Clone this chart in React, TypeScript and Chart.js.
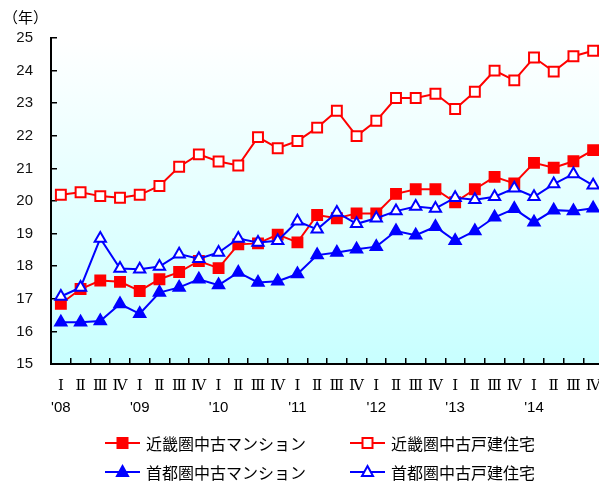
import React, { useEffect, useRef } from 'react';
import { Chart, registerables } from 'chart.js';

Chart.register(...registerables);

const quarters = [
  'Ⅰ', 'Ⅱ', 'Ⅲ', 'Ⅳ', 'Ⅰ', 'Ⅱ', 'Ⅲ', 'Ⅳ', 'Ⅰ', 'Ⅱ', 'Ⅲ', 'Ⅳ', 'Ⅰ', 'Ⅱ',
  'Ⅲ', 'Ⅳ', 'Ⅰ', 'Ⅱ', 'Ⅲ', 'Ⅳ', 'Ⅰ', 'Ⅱ', 'Ⅲ', 'Ⅳ', 'Ⅰ', 'Ⅱ', 'Ⅲ', 'Ⅳ',
];
const years = [
  "'08", '', '', '', "'09", '', '', '', "'10", '', '', '', "'11", '',
  '', '', "'12", '', '', '', "'13", '', '', '', "'14", '', '', '',
];

const kinkiMansion = [
  16.85, 17.3, 17.56, 17.52, 17.24, 17.6, 17.82, 18.16, 17.94, 18.67, 18.7, 18.97, 18.73, 19.57,
  19.47, 19.62, 19.62, 20.22, 20.36, 20.36, 19.96, 20.36, 20.74, 20.54, 21.17, 21.02, 21.22, 21.56,
];
const kinkiHouse = [
  20.19, 20.27, 20.15, 20.1, 20.19, 20.46, 21.05, 21.43, 21.21, 21.09, 21.96, 21.62, 21.84, 22.25,
  22.77, 21.99, 22.46, 23.16, 23.16, 23.29, 22.82, 23.35, 24.0, 23.7, 24.4, 23.97, 24.44, 24.61,
];
const shutoMansion = [
  16.28, 16.28, 16.32, 16.84, 16.54, 17.19, 17.35, 17.6, 17.42, 17.81, 17.5, 17.54, 17.76, 18.34,
  18.42, 18.52, 18.6, 19.08, 18.95, 19.21, 18.78, 19.08, 19.5, 19.76, 19.35, 19.72, 19.69, 19.78,
];
const shutoHouse = [
  17.07, 17.35, 18.85, 17.93, 17.91, 17.99, 18.37, 18.23, 18.42, 18.85, 18.73, 18.78, 19.38, 19.13,
  19.65, 19.3, 19.47, 19.69, 19.83, 19.77, 20.1, 20.04, 20.13, 20.39, 20.13, 20.52, 20.83, 20.48,
];

const seriesNames = ['近畿圏中古マンション', '近畿圏中古戸建住宅', '首都圏中古マンション', '首都圏中古戸建住宅'];
const unitLabel = '（年）';

const RED = '#ff0000';
const BLUE = '#0000ff';
const CJK = "'Noto Sans CJK JP', sans-serif";

const bgPlugin = {
  id: 'bgGradient',
  beforeDraw(chart: any) {
    const { ctx, chartArea } = chart;
    if (!chartArea) return;
    const g = ctx.createLinearGradient(0, chartArea.top, 0, chartArea.bottom);
    g.addColorStop(0, '#ffffff');
    g.addColorStop(1, '#c8ffff');
    ctx.save();
    ctx.fillStyle = g;
    ctx.fillRect(chartArea.left, chartArea.top, chartArea.right - chartArea.left, chartArea.bottom - chartArea.top);
    ctx.restore();
  },
};

function drawMarker(ctx: CanvasRenderingContext2D, style: string, x: number, y: number, fill: string, stroke: string) {
  ctx.save();
  ctx.lineWidth = 2;
  ctx.fillStyle = fill;
  ctx.strokeStyle = stroke;
  ctx.beginPath();
  if (style === 'rect') {
    ctx.rect(x - 5, y - 5, 10, 10);
  } else {
    ctx.moveTo(x, y - 6);
    ctx.lineTo(x + 5.5, y + 4);
    ctx.lineTo(x - 5.5, y + 4);
    ctx.closePath();
  }
  ctx.fill();
  ctx.stroke();
  ctx.restore();
}

const legendPlugin = {
  id: 'customLegend',
  afterDraw(chart: any) {
    const { ctx } = chart;
    const cols = [105, 350];
    const rows = [443, 472];
    ctx.save();
    chart.data.datasets.forEach((ds: any, i: number) => {
      const x0 = cols[i % 2];
      const y = rows[Math.floor(i / 2)];
      ctx.strokeStyle = ds.borderColor;
      ctx.lineWidth = 2;
      ctx.beginPath();
      ctx.moveTo(x0, y);
      ctx.lineTo(x0 + 35, y);
      ctx.stroke();
      drawMarker(ctx, ds.pointStyle, x0 + 17.5, y, ds.pointBackgroundColor, ds.pointBorderColor);
      ctx.fillStyle = '#000';
      ctx.font = `16px ${CJK}`;
      ctx.textAlign = 'left';
      ctx.textBaseline = 'middle';
      ctx.fillText(ds.label, x0 + 41, y + 1);
    });
    ctx.font = `15px ${CJK}`;
    ctx.fillStyle = '#000';
    ctx.textAlign = 'left';
    ctx.textBaseline = 'middle';
    ctx.fillText(unitLabel, 3, 17);
    ctx.restore();
  },
};

const zeroPad = (scale: any) => {
  scale.paddingLeft = 0;
  scale.paddingRight = 0;
};

export default function App() {
  const ref = useRef<HTMLCanvasElement | null>(null);

  useEffect(() => {
    document.body.style.margin = '0';
    const canvas = ref.current;
    if (!canvas) return;
    const mk = (label: string, data: number[], color: string, style: string, filled: boolean, order: number) => ({
      label,
      data,
      borderColor: color,
      backgroundColor: color,
      borderWidth: 2,
      pointStyle: style,
      pointRadius: style === 'rect' ? 7 : 6.5,
      pointHoverRadius: style === 'rect' ? 7 : 6.5,
      pointBackgroundColor: filled ? color : '#ffffff',
      pointBorderColor: color,
      pointBorderWidth: 2,
      tension: 0,
      clip: false as any,
      order,
    });
    const chart = new Chart(canvas, {
      type: 'line',
      data: {
        labels: quarters,
        datasets: [
          mk(seriesNames[0], kinkiMansion, RED, 'rect', true, 3),
          mk(seriesNames[1], kinkiHouse, RED, 'rect', false, 2),
          mk(seriesNames[2], shutoMansion, BLUE, 'triangle', true, 1),
          mk(seriesNames[3], shutoHouse, BLUE, 'triangle', false, 0),
        ] as any,
      },
      options: {
        animation: false,
        responsive: false,
        events: [],
        layout: { padding: { top: 38, right: 0, left: 0, bottom: 0 } },
        plugins: {
          legend: { display: false },
          tooltip: { enabled: false },
          title: { display: false },
        },
        scales: {
          x: {
            type: 'category',
            position: 'bottom',
            weight: 0,
            offset: true,
            grid: {
              display: true,
              drawOnChartArea: false,
              drawTicks: true,
              tickLength: -6,
              offset: true,
              color: '#000',
              lineWidth: 1.5,
            },
            border: { display: true, color: '#000', width: 2 },
            ticks: {
              autoSkip: false,
              maxRotation: 0,
              minRotation: 0,
              padding: 0,
              color: '#000',
              font: { family: "'DejaVu Serif', 'Liberation Serif', serif", size: 15, lineHeight: 3.7 },
            },
            afterFit(scale: any) {
              scale.height = 30;
              zeroPad(scale);
            },
          },
          x2: {
            type: 'category',
            position: 'bottom',
            weight: 1,
            labels: years,
            offset: true,
            grid: { display: false, drawTicks: false },
            border: { display: false },
            ticks: {
              autoSkip: false,
              maxRotation: 0,
              minRotation: 0,
              padding: 0,
              color: '#000',
              font: { family: "'Liberation Sans', Arial, sans-serif", size: 15, lineHeight: 1.8 },
            },
            afterFit(scale: any) {
              scale.height = 87;
              zeroPad(scale);
            },
          },
          y: {
            type: 'linear',
            min: 15,
            max: 25,
            grid: {
              display: true,
              drawOnChartArea: false,
              drawTicks: true,
              tickLength: -6,
              color: '#000',
              lineWidth: 1.5,
            },
            border: { display: true, color: '#000', width: 2 },
            ticks: {
              stepSize: 1,
              padding: 24,
              color: '#111',
              font: { family: "'Liberation Sans', Arial, sans-serif", size: 15 },
            },
            afterFit(scale: any) {
              scale.width = 51;
            },
          },
        },
      } as any,
      plugins: [bgPlugin, legendPlugin],
    });
    return () => chart.destroy();
  }, []);

  return (
    <div style={{ width: 599, height: 481, position: 'relative', overflow: 'hidden' }}>
      <canvas ref={ref} width={612} height={481} style={{ display: 'block', width: 612, height: 481 }} />
    </div>
  );
}
